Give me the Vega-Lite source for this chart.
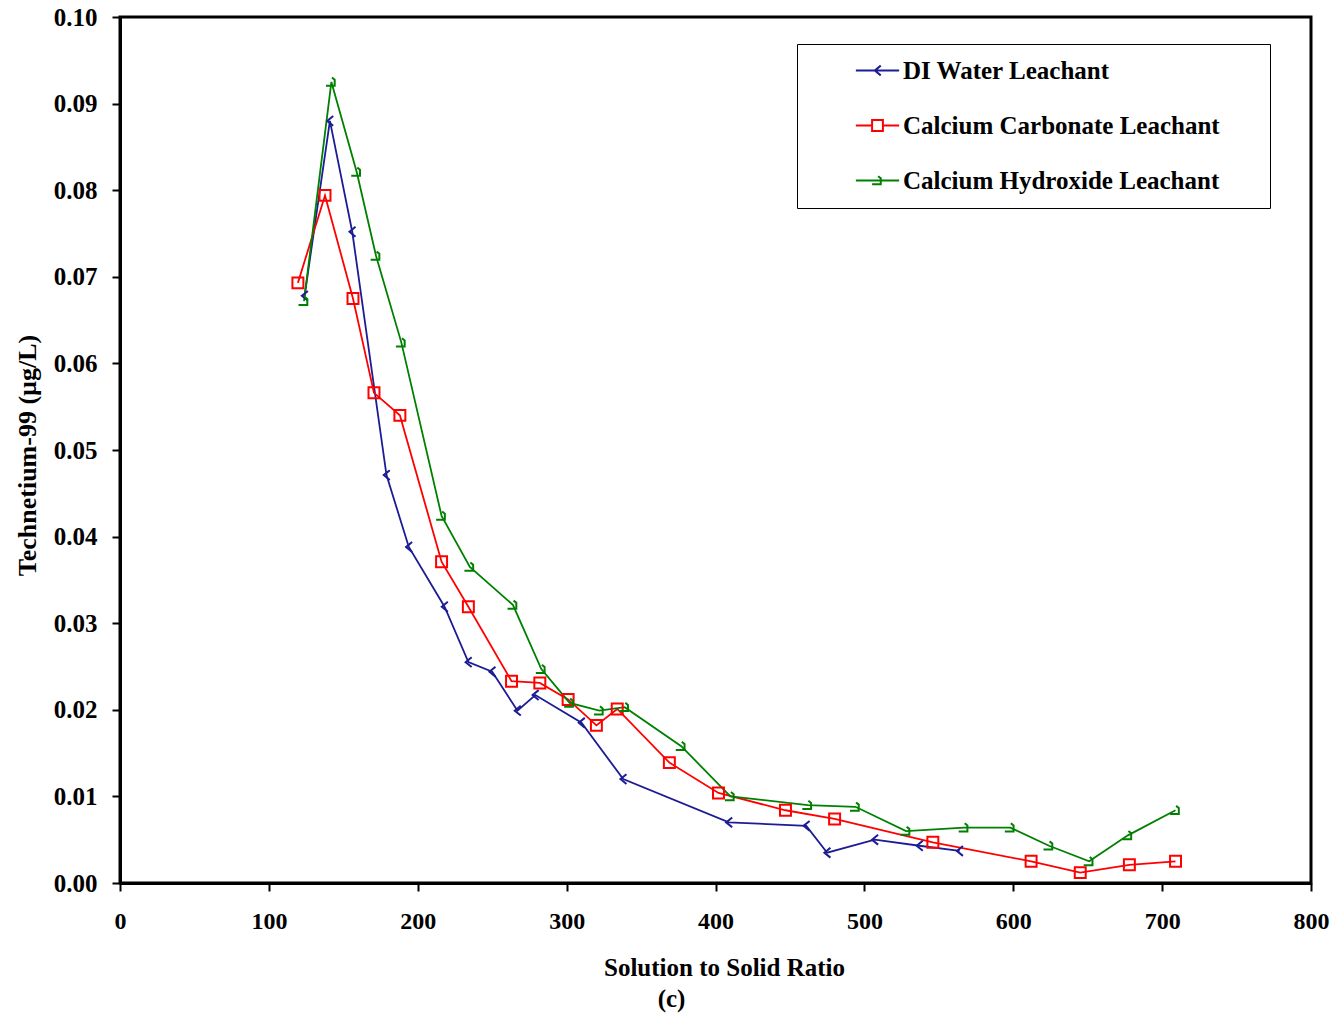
{
  "$schema": "https://vega.github.io/schema/vega-lite/v6.json",
  "width": 1191,
  "height": 866,
  "autosize": "none",
  "padding": {"left": 120, "top": 17, "right": 24, "bottom": 134},
  "background": "white",
  "config": {
    "font": "Liberation Serif",
    "view": {"stroke": "black", "strokeWidth": 3},
    "axis": {"grid": false, "domainColor": "black", "domainWidth": 3, "tickColor": "black", "tickWidth": 2, "tickSize": 8, "labelColor": "black", "titleColor": "black", "labelFont": "Liberation Serif", "titleFont": "Liberation Serif", "labelFontWeight": "bold", "titleFontWeight": "bold", "labelFlush": false}
  },
  "title": {"text": "(c)", "orient": "bottom", "anchor": "middle", "frame": "group", "dx": -44, "offset": 7, "fontSize": 25, "fontWeight": "bold", "font": "Liberation Serif", "color": "black"},
  "data": {"values": [
    {"series": "DI Water Leachant", "x": 124, "y": 0.0678},
    {"series": "DI Water Leachant", "x": 141, "y": 0.0880},
    {"series": "DI Water Leachant", "x": 156, "y": 0.0752},
    {"series": "DI Water Leachant", "x": 179, "y": 0.0471},
    {"series": "DI Water Leachant", "x": 194, "y": 0.0388},
    {"series": "DI Water Leachant", "x": 218, "y": 0.0319},
    {"series": "DI Water Leachant", "x": 234, "y": 0.0255},
    {"series": "DI Water Leachant", "x": 250, "y": 0.0244},
    {"series": "DI Water Leachant", "x": 267, "y": 0.0199},
    {"series": "DI Water Leachant", "x": 279, "y": 0.0217},
    {"series": "DI Water Leachant", "x": 310, "y": 0.0185},
    {"series": "DI Water Leachant", "x": 338, "y": 0.0120},
    {"series": "DI Water Leachant", "x": 409, "y": 0.0070},
    {"series": "DI Water Leachant", "x": 461, "y": 0.0066},
    {"series": "DI Water Leachant", "x": 475, "y": 0.0035},
    {"series": "DI Water Leachant", "x": 507, "y": 0.0050},
    {"series": "DI Water Leachant", "x": 537, "y": 0.0043},
    {"series": "DI Water Leachant", "x": 564, "y": 0.0037},
    {"series": "Calcium Carbonate Leachant", "x": 119.5, "y": 0.0693},
    {"series": "Calcium Carbonate Leachant", "x": 137.7, "y": 0.0794},
    {"series": "Calcium Carbonate Leachant", "x": 156.5, "y": 0.0675},
    {"series": "Calcium Carbonate Leachant", "x": 170.6, "y": 0.0566},
    {"series": "Calcium Carbonate Leachant", "x": 188, "y": 0.0540},
    {"series": "Calcium Carbonate Leachant", "x": 216, "y": 0.0371},
    {"series": "Calcium Carbonate Leachant", "x": 234, "y": 0.0319},
    {"series": "Calcium Carbonate Leachant", "x": 263, "y": 0.0233},
    {"series": "Calcium Carbonate Leachant", "x": 282, "y": 0.0231},
    {"series": "Calcium Carbonate Leachant", "x": 301, "y": 0.0212},
    {"series": "Calcium Carbonate Leachant", "x": 320, "y": 0.0182},
    {"series": "Calcium Carbonate Leachant", "x": 334, "y": 0.0201},
    {"series": "Calcium Carbonate Leachant", "x": 369, "y": 0.0139},
    {"series": "Calcium Carbonate Leachant", "x": 402, "y": 0.0104},
    {"series": "Calcium Carbonate Leachant", "x": 447, "y": 0.0084},
    {"series": "Calcium Carbonate Leachant", "x": 480, "y": 0.0074},
    {"series": "Calcium Carbonate Leachant", "x": 546, "y": 0.0047},
    {"series": "Calcium Carbonate Leachant", "x": 612, "y": 0.0025},
    {"series": "Calcium Carbonate Leachant", "x": 645, "y": 0.0012},
    {"series": "Calcium Carbonate Leachant", "x": 678, "y": 0.0021},
    {"series": "Calcium Carbonate Leachant", "x": 709, "y": 0.0025},
    {"series": "Calcium Hydroxide Leachant", "x": 123.6, "y": 0.0672},
    {"series": "Calcium Hydroxide Leachant", "x": 142, "y": 0.0925},
    {"series": "Calcium Hydroxide Leachant", "x": 159, "y": 0.0821},
    {"series": "Calcium Hydroxide Leachant", "x": 172, "y": 0.0724},
    {"series": "Calcium Hydroxide Leachant", "x": 189, "y": 0.0624},
    {"series": "Calcium Hydroxide Leachant", "x": 216, "y": 0.0424},
    {"series": "Calcium Hydroxide Leachant", "x": 235, "y": 0.0365},
    {"series": "Calcium Hydroxide Leachant", "x": 264, "y": 0.0321},
    {"series": "Calcium Hydroxide Leachant", "x": 283, "y": 0.0247},
    {"series": "Calcium Hydroxide Leachant", "x": 302, "y": 0.0208},
    {"series": "Calcium Hydroxide Leachant", "x": 322, "y": 0.0199},
    {"series": "Calcium Hydroxide Leachant", "x": 339, "y": 0.0203},
    {"series": "Calcium Hydroxide Leachant", "x": 377, "y": 0.0158},
    {"series": "Calcium Hydroxide Leachant", "x": 410, "y": 0.0100},
    {"series": "Calcium Hydroxide Leachant", "x": 462, "y": 0.0090},
    {"series": "Calcium Hydroxide Leachant", "x": 494, "y": 0.0088},
    {"series": "Calcium Hydroxide Leachant", "x": 528, "y": 0.0060},
    {"series": "Calcium Hydroxide Leachant", "x": 567, "y": 0.0064},
    {"series": "Calcium Hydroxide Leachant", "x": 598, "y": 0.0064},
    {"series": "Calcium Hydroxide Leachant", "x": 624, "y": 0.0043},
    {"series": "Calcium Hydroxide Leachant", "x": 651, "y": 0.0025},
    {"series": "Calcium Hydroxide Leachant", "x": 677, "y": 0.0055},
    {"series": "Calcium Hydroxide Leachant", "x": 709, "y": 0.0084}
  ]},
  "encoding": {
    "x": {"field": "x", "type": "quantitative", "scale": {"domain": [0, 800], "nice": false},
      "axis": {"title": "Solution to Solid Ratio", "values": [0,100,200,300,400,500,600,700,800], "labelFontSize": 24, "labelPadding": 18, "titleFontSize": 25, "titleX": 604, "titleY": 72, "titleBaseline": "top", "titleAlign": "center"}},
    "y": {"field": "y", "type": "quantitative", "scale": {"domain": [0, 0.1], "nice": false},
      "axis": {"title": "Technetium-99 (µg/L)", "values": [0,0.01,0.02,0.03,0.04,0.05,0.06,0.07,0.08,0.09,0.1], "format": ".2f", "labelFontSize": 25, "labelPadding": 15, "titleFontSize": 26, "titleX": -85, "titleY": 438, "titleBaseline": "alphabetic", "titleAlign": "center"}},
    "color": {"field": "series", "type": "nominal",
      "scale": {"domain": ["DI Water Leachant", "Calcium Carbonate Leachant", "Calcium Hydroxide Leachant"], "range": ["#1c1c94", "#ff0000", "#008000"]},
      "legend": {"title": null, "orient": "none", "legendX": 677, "legendY": 27, "padding": 14, "strokeColor": "black", "fillColor": "white", "labelFontSize": 25, "labelFontWeight": "bold", "labelFont": "Liberation Serif", "labelColor": "black", "labelLimit": 500, "symbolSize": 117, "symbolOffset": 54, "labelOffset": 13, "rowPadding": 29, "symbolStrokeWidth": 2, "symbolOpacity": 1,
        "labelExpr": "datum.label + '\u2800\u2800'"}
    }
  },
  "layer": [
    {"mark": {"type": "line", "strokeWidth": 1.8}, "encoding": {"order": {"field": "x", "type": "quantitative"}}},
    {"mark": {"type": "point", "filled": false, "strokeWidth": 2, "size": 120, "opacity": 0},
      "encoding": {"shape": {"field": "series", "type": "nominal",
        "legend": {"title": null, "orient": "none", "legendX": 677, "legendY": 27, "padding": 14, "strokeColor": "black", "fillColor": "white", "labelFontSize": 25, "labelFontWeight": "bold", "labelFont": "Liberation Serif", "labelColor": "black", "labelLimit": 500, "symbolSize": 117, "symbolOffset": 54, "labelOffset": 13, "rowPadding": 29, "symbolStrokeWidth": 2, "symbolOpacity": 1, "labelExpr": "datum.label + '\u2800\u2800'"},
        "scale": {"domain": ["DI Water Leachant", "Calcium Carbonate Leachant", "Calcium Hydroxide Leachant"], "range": ["M-4,0H4M0.6,-0.9L-0.5,0L0.6,0.9", "M-4,0H-1M1,0H4M-1,-1H1V1H-1Z", "M-4,0H4M-1,0.7H0.6V-0.4L0.1,-0.8"]}}}},
    {"transform": [{"filter": "datum.series === 'DI Water Leachant'"}],
      "mark": {"type": "point", "filled": false, "strokeWidth": 2, "size": 120, "opacity": 1, "shape": "M0.6,-0.9L-0.5,0L0.6,0.9"}},
    {"transform": [{"filter": "datum.series === 'Calcium Carbonate Leachant'"}],
      "mark": {"type": "point", "filled": false, "strokeWidth": 2, "size": 120, "opacity": 1, "shape": "M-1,-1H1V1H-1Z"}},
    {"transform": [{"filter": "datum.series === 'Calcium Hydroxide Leachant'"}],
      "mark": {"type": "point", "filled": false, "strokeWidth": 2, "size": 120, "opacity": 1, "shape": "M-1,0.7H0.6V-0.4L0.1,-0.8"}}
  ]
}
